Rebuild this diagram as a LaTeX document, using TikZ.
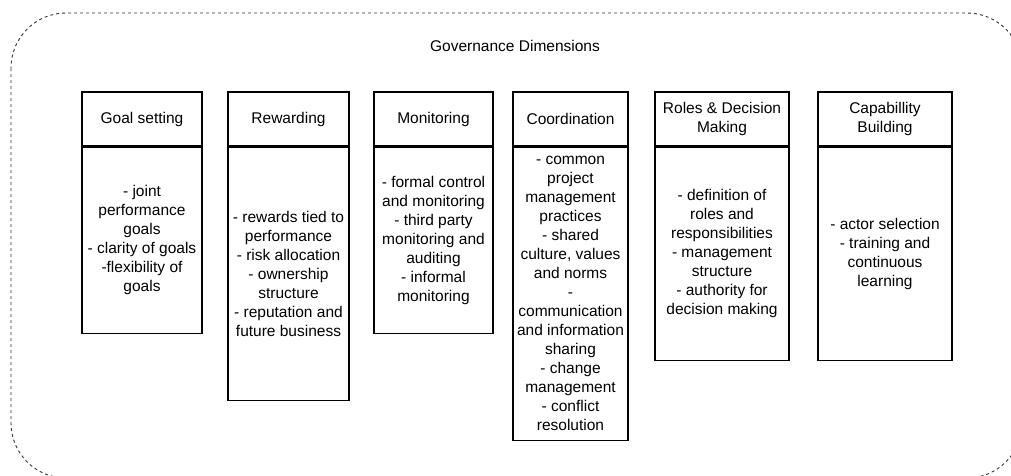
\documentclass[tikz,border=0pt]{standalone}
\usepackage{fontspec}
\setmainfont{Liberation Sans}
\usetikzlibrary{positioning}

\begin{document}
\begin{tikzpicture}[x=1pt, y=-1pt,
    every node/.style={font=\fontsize{15.5}{19}\selectfont},
    head/.style={draw, line width=1.2pt, minimum height=54pt, inner sep=0pt, align=center},
    body/.style={draw, line width=1.2pt, inner sep=0pt, align=center, below=0pt of #1}]

    \useasboundingbox (0,0) rectangle (1011,475);

    % frame
    \draw [dash pattern=on 3pt off 3pt, line width=0.9pt, black!80, rounded corners=55pt] (11,13) rectangle (1022,478);
    \node (title) at (515,46) {Governance Dimensions};

    % headers
    \node (goal) at (142,119) [head, minimum width=120pt] {Goal setting};
    \node (reward) at (288.5,119) [head, minimum width=121pt] {Rewarding};
    \node (monitor) at (433.5,119) [head, minimum width=119pt] {Monitoring};
    \node (coord) at (570.5,119) [head, minimum width=115pt] {Coordination};
    \node (roles) at (722,119) [head, minimum width=134pt] {Roles \& Decision\\Making};
    \node (capab) at (885,119) [head, minimum width=134pt] {Capabillity\\Building};

    % bodies
    \node (goalbody) [body=goal, minimum width=120pt, minimum height=186pt]
        {- joint\\performance\\goals\\- clarity of goals\\-flexibility of\\goals};
    \node (rewardbody) [body=reward, minimum width=121pt, minimum height=253pt]
        {- rewards tied to\\performance\\- risk allocation\\- ownership\\structure\\- reputation and\\future business};
    \node (monitorbody) [body=monitor, minimum width=119pt, minimum height=186pt]
        {- formal control\\and monitoring\\- third party\\monitoring and\\auditing\\- informal\\monitoring};
    \node (coordbody) [body=coord, minimum width=115pt, minimum height=293pt]
        {- common\\project\\management\\practices\\- shared\\culture, values\\and norms\\-\\communication\\and information\\sharing\\- change\\management\\- conflict\\resolution};
    \node (rolesbody) [body=roles, minimum width=134pt, minimum height=213pt]
        {- definition of\\roles and\\responsibilities\\- management\\structure\\- authority for\\decision making};
    \node (capabbody) [body=capab, minimum width=134pt, minimum height=213pt]
        {- actor selection\\- training and\\continuous\\learning};

\end{tikzpicture}
\end{document}
